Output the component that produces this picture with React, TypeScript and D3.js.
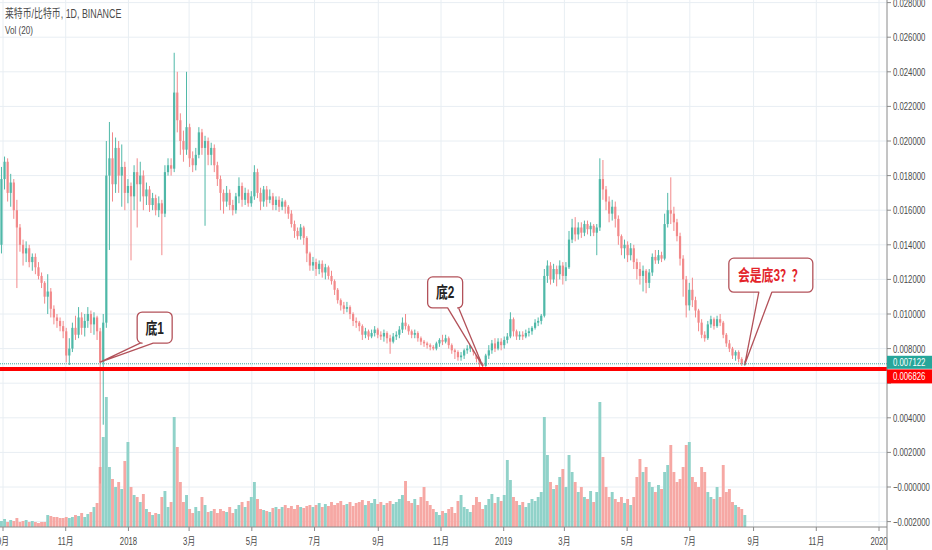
import React from 'react';
import * as d3 from 'd3';

// LTC/BTC, Binance, 3-day candles (prices in 1e-4 BTC)
const START = new Date(2017, 7, 29);
const STEP_DAYS = 3;
const OPEN0 = 140;

const closes = [
  178, 188, 170, 176, 160, 150, 140, 135, 138, 130,
  133, 127, 122, 118, 110, 113, 103, 98, 96, 93,
  90, 76, 80, 92, 88, 98, 92, 96, 100, 94,
  98, 90, 72, 95, 180, 190, 175, 196, 180, 185,
  170, 174, 168, 182, 175, 180, 168, 172, 163, 167,
  160, 164, 158, 182, 186, 184, 228, 212, 200, 195,
  208, 190, 186, 192, 205, 196, 200, 192, 196, 186,
  178, 170, 165, 170, 163, 160, 168, 174, 166, 170,
  164, 168, 182, 170, 165, 172, 166, 168, 163, 166,
  162, 165, 162, 158, 152, 148, 145, 150, 144, 135,
  128, 130, 126, 129, 124, 127, 122, 119, 114, 108,
  105, 103, 104, 100, 96, 95, 93, 88, 90, 87,
  89, 91, 88, 87, 89, 86, 84, 87, 88, 91,
  95, 93, 90, 88, 89, 86, 84, 83, 82, 81,
  80, 83, 85, 84, 86, 82, 79, 78, 75, 76,
  79, 80, 82, 78, 74, 71, 70, 76, 79, 83,
  80, 84, 82, 85, 87, 97, 90, 87, 88, 87,
  89, 90, 92, 95, 96, 99, 122, 128, 120, 126,
  123, 128, 122, 127, 143, 150, 146, 150, 147, 152,
  149, 151, 147, 150, 178, 172, 165, 158, 162, 155,
  145, 138, 140, 134, 138, 130, 126, 122, 125, 118,
  124, 133, 131, 134, 132, 152, 160, 158, 153, 145,
  132, 120, 105, 114, 108, 102, 95, 88, 86, 94,
  97, 93, 97, 95, 88, 83, 80, 76, 78, 74,
  71, 71.22,
];

const highs = [
  185, 191, 190, 181, 178, 166, 152, 143, 142, 140,
  135, 135, 130, 124, 119, 123, 115, 105, 100, 98,
  96, 92, 86, 95, 99, 104, 101, 100, 104, 102,
  101, 99, 92, 100, 200, 211, 205, 202, 200, 198,
  188, 178, 176, 186, 190, 188, 183, 176, 174, 170,
  169, 168, 166, 186, 190, 190, 251, 240, 216, 206,
  240, 210, 194, 196, 208, 207, 203, 202, 199, 198,
  188, 180, 172, 174, 172, 166, 170, 179, 176, 173,
  172, 171, 186, 184, 173, 174, 174, 172, 170, 168,
  168, 167, 166, 163, 160, 154, 150, 152, 151, 145,
  136, 133, 132, 131, 131, 129, 128, 125, 120, 115,
  109, 107, 107, 105, 101, 98, 96, 94, 92, 91,
  91, 93, 92, 90, 91, 90, 88, 89, 90, 93,
  98, 100, 94, 91, 91, 90, 87, 85, 84, 83,
  82, 84, 86, 88, 88, 87, 83, 80, 79, 78,
  80, 82, 84, 83, 79, 75, 72, 77, 82, 85,
  86, 86, 86, 87, 89, 101, 98, 91, 90, 90,
  91, 92, 93, 97, 98, 100, 126, 131, 130, 129,
  128, 131, 130, 130, 148, 155, 156, 153, 153, 154,
  154, 153, 152, 152, 190, 189, 174, 168, 166, 165,
  157, 146, 143, 142, 141, 140, 132, 130, 128, 126,
  126, 135, 137, 137, 136, 158, 170, 179, 162, 155,
  147, 134, 122, 118, 121, 110, 103, 97, 90, 96,
  99, 98, 99, 100, 96, 89, 85, 81, 79, 79,
  75, 73,
];

const lows = [
  135, 172, 165, 162, 155, 115, 136, 128, 130, 127,
  125, 123, 120, 115, 106, 100, 98, 94, 92, 90,
  86, 72, 70.5, 78, 85, 86, 88, 87, 92, 89,
  88, 85, 2, 36, 92, 137, 165, 170, 170, 162,
  160, 164, 131, 160, 150, 165, 160, 163, 159, 160,
  157, 156, 134, 156, 180, 180, 182, 205, 192, 188,
  192, 185, 182, 183, 190, 192, 151, 186, 186, 182,
  174, 160, 158, 162, 160, 157, 158, 164, 162, 163,
  162, 162, 166, 167, 160, 162, 162, 164, 160, 160,
  159, 160, 158, 155, 150, 144, 143, 143, 140, 130,
  125, 125, 122, 123, 121, 120, 120, 117, 111, 106,
  102, 100, 101, 97, 93, 92, 90, 85, 86, 85,
  86, 87, 86, 85, 84, 83, 77, 83, 85, 86,
  89, 91, 88, 86, 86, 84, 82, 81, 80, 79,
  79, 79, 81, 82, 83, 80, 77, 74, 73, 73,
  74, 77, 78, 76, 72, 69, 69, 69.5, 74, 77,
  78, 79, 79, 80, 83, 86, 87, 85, 85, 85,
  86, 87, 88, 91, 93, 94, 98, 118, 117, 118,
  116, 120, 117, 119, 126, 141, 142, 143, 144, 145,
  146, 145, 145, 134, 148, 166, 160, 153, 154, 150,
  140, 134, 132, 130, 131, 126, 120, 117, 113, 112,
  115, 122, 129, 129, 130, 131, 150, 152, 148, 142,
  128, 110, 98, 102, 104, 98, 90, 86, 84, 85,
  92, 91, 92, 93, 86, 81, 78, 74, 73, 72,
  70, 70,
];

// volume, arbitrary units
const volumes = [
  6, 8, 5, 7, 6, 9, 5, 6, 7, 5,
  6, 5, 4, 5, 5, 12, 11, 10, 10, 9,
  9, 10, 9, 10, 12, 11, 14, 10, 13, 15,
  20, 24, 60, 90, 130, 60, 48, 40, 45, 38,
  66, 85, 40, 32, 30, 25, 33, 18, 15, 12,
  14, 13, 30, 36, 20, 25, 110, 80, 45, 25,
  32, 18, 14, 20, 16, 30, 22, 15, 16, 18,
  14, 18, 16, 15, 20, 14, 18, 22, 25, 20,
  26, 30, 45, 28, 18, 17, 16, 15, 19, 20,
  18, 20, 22, 19, 21, 18, 22, 20, 19, 21,
  22, 20, 22, 24, 20, 23, 21, 25, 22, 24,
  26, 22, 23, 25, 21, 24, 25, 27, 22, 26,
  24, 28, 23, 25, 22, 24, 26, 23, 25, 28,
  32, 46, 26, 24, 28, 22, 30, 40, 26, 22,
  18, 15, 12, 16, 14, 18, 20, 14, 26, 32,
  20, 18, 15, 22, 30, 25, 18, 22, 28, 33,
  24, 30, 26, 32, 67, 47, 30, 26, 22, 25,
  20, 24, 28, 26, 30, 35, 110, 72, 45, 38,
  42, 50, 58, 40, 72, 55, 45, 35, 40, 30,
  28, 36, 25, 35, 125, 70, 40, 30, 35, 28,
  25, 30, 24, 28, 22, 30, 50, 68, 55, 60,
  45, 40, 35, 42, 38, 55, 62, 82, 55, 45,
  48, 60, 82, 85, 50, 45, 40, 60, 55, 35,
  30, 28, 40, 30, 62, 35, 38, 25, 22, 20,
  18, 12,
];

const priceTicks = [-0.002, 0, 0.002, 0.004, 0.006, 0.008, 0.01, 0.012, 0.014,
  0.016, 0.018, 0.02, 0.022, 0.024, 0.026, 0.028];

const LAST_PRICE = 0.007122;
const SUPPORT = 0.006826;

// callouts: candle index, tip price, box offset from tip
const notes = [
  { label: '底1', i: 32, price: 0.00722, color: '#222', dx: 37, dy: -50, w: 35, h: 31, b1: 3, b2: 16 },
  { label: '底2', i: 156, price: 0.007, color: '#222', dx: -55, dy: -89, w: 35, h: 31, b1: 20, b2: 31 },
  { label: '会是底3？？', i: 241, price: 0.0071, color: '#e3252b', dx: -16, dy: -106, w: 84, h: 34, b1: 30, b2: 43 },
];

const W = 932;
const H = 550;
const AXIS_X = 887;
const AXIS_Y = 527;
const SQ = 0.74; // horizontal squeeze of the screenshot's text
const FONT = "'Liberation Sans', 'Noto Sans CJK SC', sans-serif";
const UP = '#4fb8a8';
const DOWN = '#f2898a';
const UP_VOL = '#90d2c9';
const DOWN_VOL = '#f6a8a4';
const GRID = '#e8eef3';

const x = d3.scaleTime().domain([new Date(2017, 8, 1), new Date(2020, 0, 1)]).range([3, 879]);
const y = d3.scaleLinear().domain([-0.002, 0.028]).range([521.6, 2.6]);
const yv = d3.scaleLinear().domain([0, 150]).range([AXIS_Y, AXIS_Y - 150]);

const candles = closes.map((c, i) => {
  const open = i === 0 ? OPEN0 : closes[i - 1];
  const date = d3.timeHour.offset(START, (STEP_DAYS * i + 1.5) * 24);
  return {
    date,
    open: open / 1e4,
    close: c / 1e4,
    high: highs[i] / 1e4,
    low: lows[i] / 1e4,
    vol: volumes[i],
    up: c >= open,
  };
});

const monthTicks = x.ticks(d3.timeMonth.every(2)!);
const monthLabel = (d: Date) => (d.getMonth() === 0 ? String(d.getFullYear()) : `${d.getMonth() + 1}月`);
const priceLabel = (v: number) => (Math.abs(v) < 1e-9 ? '\u22120.000000' : v < 0 ? `\u2212${(-v).toFixed(6)}` : v.toFixed(6));

// axis labels hidden under the price tags
const tagTop = y(LAST_PRICE) - 8;
const tagBottom = y(SUPPORT) + 14.5;
const axisLabels = priceTicks.filter((v) => y(v) < tagTop - 4 || y(v) > tagBottom + 4);

function Txt({ x: tx, y: ty, size, children, fill = '#4a4a4a', anchor = 'start', weight = 'normal' }: any) {
  return (
    <text
      transform={`translate(${tx},${ty}) scale(${SQ},1)`}
      fontSize={size}
      fill={fill}
      textAnchor={anchor}
      fontWeight={weight}
      fontFamily={FONT}
    >
      {children}
    </text>
  );
}

function bubblePath(x0: number, y0: number, w: number, h: number, b1: number, b2: number, tx: number, ty: number) {
  const r = 5;
  const x1 = x0 + w;
  const y1 = y0 + h;
  return [
    `M${x0 + r},${y0}`,
    `H${x1 - r}`,
    `A${r},${r} 0 0 1 ${x1},${y0 + r}`,
    `V${y1 - r}`,
    `A${r},${r} 0 0 1 ${x1 - r},${y1}`,
    `H${x0 + b2}`,
    `L${tx},${ty}`,
    `L${x0 + b1},${y1}`,
    `H${x0 + r}`,
    `A${r},${r} 0 0 1 ${x0},${y1 - r}`,
    `V${y0 + r}`,
    `A${r},${r} 0 0 1 ${x0 + r},${y0}`,
    'Z',
  ].join(' ');
}

export default function App() {
  const bodyW = 2.2;
  const volW = 2.9;

  return (
    <div style={{ position: 'absolute', left: 0, top: 0 }}>
      <svg width={W} height={H} style={{ display: 'block', background: '#fff' }}>
        <defs>
          <clipPath id="pane">
            <rect x={0} y={0} width={AXIS_X} height={AXIS_Y} />
          </clipPath>
        </defs>

        {/* grid */}
        <g stroke={GRID} strokeWidth={1}>
          {monthTicks.map((d) => (
            <line key={+d} x1={x(d)} x2={x(d)} y1={0} y2={AXIS_Y} />
          ))}
          {priceTicks.map((v) => (
            <line key={v} x1={0} x2={AXIS_X} y1={y(v)} y2={y(v)} />
          ))}
        </g>

        <g clipPath="url(#pane)">
          {/* volume */}
          {candles.map((c, i) => (
            <rect
              key={`v${i}`}
              x={x(c.date) - volW / 2}
              y={yv(c.vol)}
              width={volW}
              height={AXIS_Y - yv(c.vol)}
              fill={c.up ? UP_VOL : DOWN_VOL}
            />
          ))}

          {/* candles */}
          {candles.map((c, i) => {
            const cx = x(c.date);
            const top = y(Math.max(c.open, c.close));
            const bot = y(Math.min(c.open, c.close));
            const col = c.up ? UP : DOWN;
            return (
              <g key={`c${i}`}>
                <line x1={cx} x2={cx} y1={y(c.high)} y2={y(c.low)} stroke={col} strokeWidth={1} />
                <rect x={cx - bodyW / 2} y={top} width={bodyW} height={Math.max(1, bot - top)} fill={col} />
              </g>
            );
          })}

          {/* last price and support lines */}
          <line x1={0} x2={AXIS_X} y1={y(LAST_PRICE)} y2={y(LAST_PRICE)} stroke="#3aa99c" strokeWidth={1} strokeDasharray="1,1" />
          <line x1={0} x2={AXIS_X} y1={y(SUPPORT)} y2={y(SUPPORT)} stroke="#ff0000" strokeWidth={4} />

          {/* callouts */}
          {notes.map((n) => {
            const tx = x(candles[n.i].date);
            const ty = y(n.price);
            const bx = tx + n.dx;
            const by = ty + n.dy;
            return (
              <g key={n.label}>
                <path
                  d={bubblePath(bx, by, n.w, n.h, n.b1, n.b2, tx, ty)}
                  fill="rgba(255,255,255,0.92)"
                  stroke="#b3525a"
                  strokeWidth={1.3}
                  strokeLinejoin="round"
                />
                <Txt x={bx + n.w / 2} y={by + n.h / 2 + 6} size={16} fill={n.color} anchor="middle" weight="bold">
                  {n.label}
                </Txt>
              </g>
            );
          })}
        </g>

        {/* legend */}
        <Txt x={5} y={18} size={12}>莱特币/比特币, 1D, BINANCE</Txt>
        <Txt x={5} y={34} size={11}>Vol (20)</Txt>

        {/* time axis */}
        <line x1={0} x2={AXIS_X} y1={AXIS_Y} y2={AXIS_Y} stroke="#8a8a8a" strokeWidth={1} />
        {monthTicks.map((d) => (
          <g key={`t${+d}`}>
            <line x1={x(d)} x2={x(d)} y1={AXIS_Y} y2={AXIS_Y + 4} stroke="#8a8a8a" />
            <Txt x={x(d)} y={545} size={10.5} anchor="middle">
              {monthLabel(d)}
            </Txt>
          </g>
        ))}

        {/* price axis */}
        <line x1={AXIS_X} x2={AXIS_X} y1={0} y2={H} stroke="#8a8a8a" strokeWidth={1} />
        {priceTicks.map((v) => (
          <line key={`pt${v}`} x1={AXIS_X} x2={AXIS_X + 4} y1={y(v)} y2={y(v)} stroke="#8a8a8a" />
        ))}
        {axisLabels.map((v) => (
          <Txt key={`p${v}`} x={AXIS_X + 6} y={y(v) + 4} size={10.5}>
            {priceLabel(v)}
          </Txt>
        ))}

        {/* price tags */}
        <rect x={AXIS_X} y={tagTop} width={W - AXIS_X} height={13} fill="#26a69a" />
        <Txt x={AXIS_X + 6} y={y(LAST_PRICE) + 2} size={10.5} fill="#fff">
          {LAST_PRICE.toFixed(6)}
        </Txt>
        <rect x={AXIS_X} y={y(SUPPORT) + 0.5} width={W - AXIS_X} height={14} fill="#ff0000" />
        <Txt x={AXIS_X + 6} y={y(SUPPORT) + 11} size={10.5} fill="#fff">
          {SUPPORT.toFixed(6)}
        </Txt>
      </svg>
    </div>
  );
}
